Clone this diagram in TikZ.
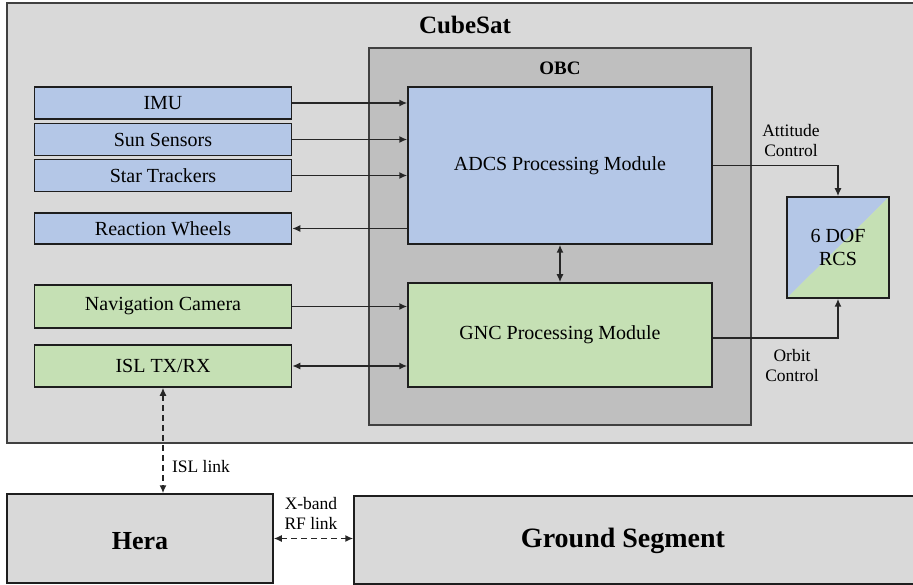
\documentclass[tikz,border=0pt]{standalone}
\usepackage{fontspec}
\setmainfont{Liberation Serif}
\usetikzlibrary{arrows.meta}
\definecolor{boxblue}{HTML}{B4C7E7}
\definecolor{boxgreen}{HTML}{C5E0B4}
\definecolor{lightgray}{HTML}{D9D9D9}
\definecolor{midgray}{HTML}{BFBFBF}
\definecolor{edge}{HTML}{1E1E1E}
\definecolor{wire}{HTML}{262626}
\tikzset{
  blk/.style={draw=edge, line width=1.5pt, inner sep=0pt, rectangle,
    font=\fontsize{20}{22}\selectfont, text=black},
  blueblk/.style={blk, fill=boxblue},
  greenblk/.style={blk, fill=boxgreen},
  container/.style={draw=edge!85, line width=1.5pt, inner sep=0pt, rectangle},
  title/.style={font=\bfseries\fontsize{25}{28}\selectfont, inner sep=0pt},
  lbl/.style={font=\fontsize{17.5}{20}\selectfont, align=center, inner sep=0pt},
  tip/.tip={Latex[length=8pt,width=7pt]},
  conn/.style={draw=wire, line width=1.5pt, -tip},
  biconn/.style={draw=wire, line width=1.5pt, tip-tip},
  link/.style={biconn, dash pattern=on 6pt off 4pt},
}
\begin{document}
\begin{tikzpicture}[x=1pt,y=-1pt]
\useasboundingbox[fill=white] (0,0) rectangle (913,585);
% containers
\node[container, fill=lightgray, minimum width=920pt, minimum height=440pt] (cubesat) at (467,223) {};
\node[title] (cubesattitle) at (465,25) {CubeSat};
\node[container, fill=midgray, minimum width=382pt, minimum height=377pt] (obc) at (560,236.5) {};
\node[title, font=\bfseries\fontsize{19}{22}\selectfont] (obctitle) at (560,68) {OBC};
% processing modules
\node[blueblk, minimum width=304pt, minimum height=157pt] (adcs) at (560,165.5) {ADCS Processing Module};
\node[greenblk, minimum width=304pt, minimum height=104pt] (gnc) at (560,335) {GNC Processing Module};
% left blocks
\node[blueblk, minimum width=257pt, minimum height=32pt] (imu) at (163,103) {IMU};
\node[blueblk, minimum width=257pt, minimum height=32pt] (sun) at (163,139.5) {Sun Sensors};
\node[blueblk, minimum width=257pt, minimum height=32pt] (star) at (163,175.5) {Star Trackers};
\node[blueblk, minimum width=257pt, minimum height=31pt] (rw) at (163,228.5) {Reaction Wheels};
\node[greenblk, minimum width=257pt, minimum height=43pt] (nav) at (163,306.5) {Navigation Camera};
\node[greenblk, minimum width=257pt, minimum height=42pt] (isl) at (163,366) {ISL TX/RX};
% RCS
\node[blk, minimum width=102pt, minimum height=101pt, align=center,
  font=\fontsize{20}{23}\selectfont,
  path picture={
    \fill[boxblue] (path picture bounding box.south west) -- (path picture bounding box.north west) -- (path picture bounding box.north east) -- cycle;
    \fill[boxgreen] (path picture bounding box.south west) -- (path picture bounding box.south east) -- (path picture bounding box.north east) -- cycle;
  }] (rcs) at (838,247.5) {6 DOF\\RCS};
% bottom blocks
\node[blk, fill=lightgray, minimum width=266pt, minimum height=89pt] (hera) at (140,538.5) {};
\node[title, font=\bfseries\fontsize{26}{28}\selectfont] (heratitle) at (140,541) {Hera};
\node[blk, fill=lightgray, minimum width=570pt, minimum height=88pt] (ground) at (639,540) {};
\node[title, font=\bfseries\fontsize{28}{30}\selectfont] (groundtitle) at (623,541) {Ground Segment};
% connectors
\draw[conn] (imu.east) -- (imu.east -| adcs.west);
\draw[conn] (sun.east) -- (sun.east -| adcs.west);
\draw[conn] (star.east) -- (star.east -| adcs.west);
\draw[conn] (rw.east -| adcs.west) -- (rw.east);
\draw[conn] (nav.east) -- (nav.east -| gnc.west);
\draw[biconn] (isl.east) -- (isl.east -| gnc.west);
\draw[biconn] (adcs.south) -- (gnc.north);
\draw[conn] (adcs.east) -| (rcs.north);
\draw[conn] (gnc.east |- 0,338) -| (rcs.south);
\draw[link] (isl.south) -- (isl.south |- hera.north);
\draw[link] (hera.east) -- (hera.east -| ground.west);
% labels
\node[lbl] (attlbl) at (791,141) {Attitude\\Control};
\node[lbl] (orblbl) at (792,366) {Orbit\\Control};
\node[lbl] (isllbl) at (201,467) {ISL link};
\node[lbl] (xlbl) at (311,513) {X-band\\RF link};
\end{tikzpicture}
\end{document}
